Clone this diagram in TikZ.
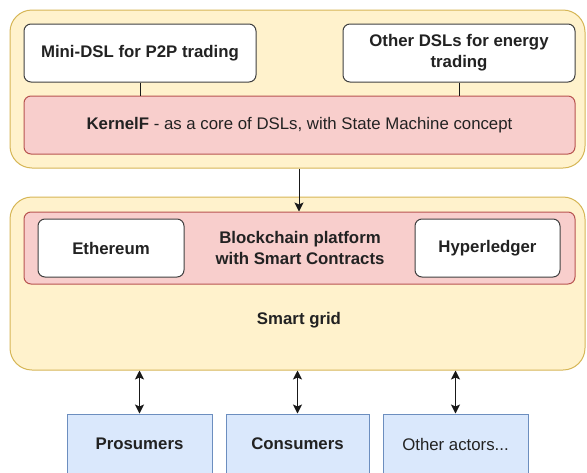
\documentclass[tikz,border=0pt]{standalone}
\usepackage{fontspec}
\setmainfont{Liberation Sans}
\usetikzlibrary{arrows.meta}
\definecolor{yfill}{HTML}{FFF2CC}
\definecolor{ystroke}{HTML}{D6B656}
\definecolor{rfill}{HTML}{F8CECC}
\definecolor{rstroke}{HTML}{B85450}
\definecolor{bfill}{HTML}{DAE8FC}
\definecolor{bstroke}{HTML}{6C8EBF}
\definecolor{txt}{HTML}{222222}
\tikzset{
  box/.style={draw, line width=1pt, inner sep=0pt, align=center, text=txt, font=\fontsize{16.8}{21}\selectfont},
  outer/.style={box, fill=yfill, draw=ystroke, rounded corners=22pt},
  redbox/.style={box, fill=rfill, draw=rstroke, rounded corners=7pt},
  whitebox/.style={box, fill=white, draw=black!75, rounded corners=7pt, font=\fontsize{16.8}{21}\selectfont\bfseries},
  bluebox/.style={box, fill=bfill, draw=bstroke},
  conn/.style={line width=1pt, black!90},
  tip/.style={},
  arr/.style={conn, -{Stealth[length=9pt,width=9pt,inset=2pt]}},
  darr/.style={conn, {Stealth[length=9pt,width=9pt,inset=2pt]}-{Stealth[length=9pt,width=9pt,inset=2pt]}},
}
\begin{document}
\begin{tikzpicture}[x=1pt,y=-1pt]
\useasboundingbox (0,0) rectangle (587,472);
\clip (0,0) rectangle (587,472);
% top group
\node[outer, minimum width=575pt, minimum height=158pt] (top) at (297.5,89) {};
\node[whitebox, minimum width=232pt, minimum height=58pt] (mini) at (140,53) {Mini-DSL for P2P trading};
\node[whitebox, minimum width=232pt, minimum height=58pt] (other) at (459,53) {Other DSLs for energy\\trading};
\node[redbox, minimum width=551pt, minimum height=58pt] (kernel) at (299.5,125) {\textbf{KernelF} - as a core of DSLs, with State Machine concept};
\draw[conn] (mini.south) -- (mini.south |- kernel.north);
\draw[conn] (other.south) -- (other.south |- kernel.north);
% lower group
\node[outer, minimum width=575pt, minimum height=173pt] (grid) at (297.5,283.5) {};
\node[redbox, minimum width=551pt, minimum height=72pt] (bc) at (299.5,248) {};
\node[box, draw=none, font=\fontsize{16.8}{21}\selectfont\bfseries] (bctext) at (300,248) {Blockchain platform\\with Smart Contracts};
\node[whitebox, minimum width=146pt, minimum height=58pt] (eth) at (111,248) {Ethereum};
\node[whitebox, minimum width=145pt, minimum height=58pt] (hyp) at (487.5,248) {Hyperledger};
\node[box, draw=none, font=\fontsize{16.8}{21}\selectfont\bfseries] (sg) at (299,320) {Smart grid};
\draw[arr] (top.south -| 299,0) -- (bc.north -| 299,0);
% actors
\node[bluebox, minimum width=145pt, minimum height=60pt, font=\fontsize{16.8}{21}\selectfont\bfseries] (pros) at (139.5,444) {Prosumers};
\node[bluebox, minimum width=143pt, minimum height=60pt, font=\fontsize{16.8}{21}\selectfont\bfseries] (cons) at (297.5,444) {Consumers};
\node[bluebox, minimum width=145pt, minimum height=60pt] (oth) at (455.5,444) {Other actors...};
\draw[darr] (grid.south -| pros.north) -- (pros.north);
\draw[darr] (grid.south -| cons.north) -- (cons.north);
\draw[darr] (grid.south -| oth.north) -- (oth.north);
\end{tikzpicture}
\end{document}
